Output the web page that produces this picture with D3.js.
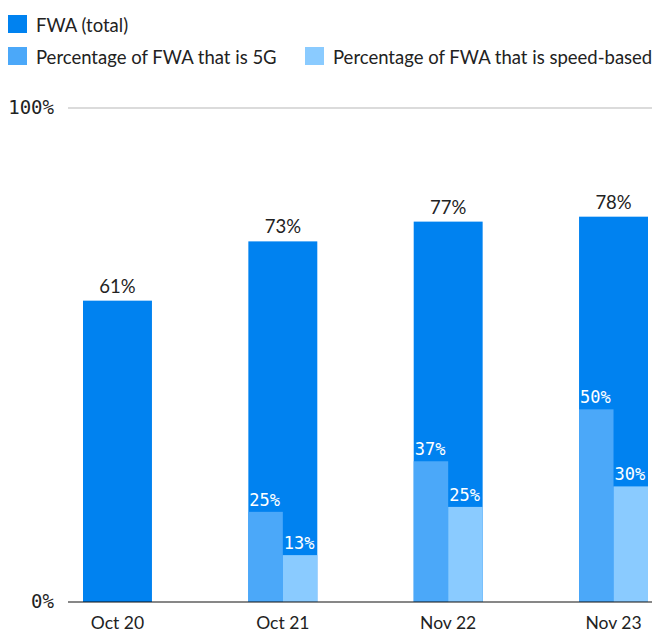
<!DOCTYPE html>
<html><head><meta charset="utf-8">
<script src="https://cdn.jsdelivr.net/npm/d3@7"></script>
<style>body{margin:0;background:#fff}svg{display:block}</style>
</head><body>
<svg id="c" width="652" height="635"></svg>
<script>
const categories = ["Oct 20", "Oct 21", "Nov 22", "Nov 23"];
const fwaTotal = [61, 73, 77, 78];
const share5G = [null, 25, 37, 50];
const shareSpeed = [null, 13, 25, 30];
const yTicks = [0, 100];
const legendLabels = ["FWA (total)", "Percentage of FWA that is 5G", "Percentage of FWA that is speed-based"];
const colors = ["#0082f0", "#4ba8f9", "#8acbff"];

const svg = d3.select("#c");
const sansFont = "Lato, 'Noto Sans', sans-serif";
const monoFont = "'DejaVu Sans Mono', monospace";

const x = d3.scaleBand().domain(categories).range([83, 648]).paddingInner(0.583).paddingOuter(0);
const y = d3.scaleLinear().domain([0, 100]).range([602, 108]);

svg.append("line").attr("x1", 68).attr("x2", 652).attr("y1", y(100)).attr("y2", y(100))
  .attr("stroke", "#b8b8b8").attr("stroke-width", 1.2);

svg.selectAll(".yt").data(yTicks).join("text")
  .attr("x", 54).attr("y", d => y(d) + 6).attr("text-anchor", "end")
  .attr("font-family", monoFont).attr("font-size", 19).attr("fill", "#222")
  .text(d => d + "%");

svg.selectAll(".tot").data(fwaTotal).join("rect")
  .attr("x", (d, i) => x(categories[i])).attr("width", x.bandwidth())
  .attr("y", d => y(d)).attr("height", d => y(0) - y(d)).attr("fill", colors[0]);

const half = x.bandwidth() / 2;
const g5 = share5G.map((v, i) => ({v, i})).filter(d => d.v != null);
const sp = shareSpeed.map((v, i) => ({v, i})).filter(d => d.v != null);
const abs = d => y(d.v * fwaTotal[d.i] / 100);

svg.selectAll(".g5").data(g5).join("rect")
  .attr("x", d => x(categories[d.i])).attr("width", half)
  .attr("y", abs).attr("height", d => y(0) - abs(d)).attr("fill", colors[1]);
svg.selectAll(".sp").data(sp).join("rect")
  .attr("x", d => x(categories[d.i]) + half).attr("width", half)
  .attr("y", abs).attr("height", d => y(0) - abs(d)).attr("fill", colors[2]);

svg.selectAll(".l5").data(g5).join("text")
  .attr("x", d => x(categories[d.i]) + 1).attr("y", d => abs(d) - 6)
  .attr("font-family", monoFont).attr("font-size", 17).attr("fill", "#fff").text(d => d.v + "%");
svg.selectAll(".ls").data(sp).join("text")
  .attr("x", d => x(categories[d.i]) + half + 1).attr("y", d => abs(d) - 6)
  .attr("font-family", monoFont).attr("font-size", 17).attr("fill", "#fff").text(d => d.v + "%");

svg.selectAll(".tl").data(fwaTotal).join("text")
  .attr("x", (d, i) => x(categories[i]) + x.bandwidth() / 2).attr("y", d => y(d) - 8)
  .attr("text-anchor", "middle").attr("font-family", sansFont).attr("font-size", 18.5).attr("fill", "#222")
  .text(d => d + "%");

svg.append("line").attr("x1", 68).attr("x2", 652).attr("y1", y(0)).attr("y2", y(0))
  .attr("stroke", "#111").attr("stroke-width", 1.2);

svg.selectAll(".xl").data(categories).join("text")
  .attr("x", d => x(d) + x.bandwidth() / 2).attr("y", 629)
  .attr("text-anchor", "middle").attr("font-family", sansFont).attr("font-size", 17.5).attr("fill", "#222")
  .text(d => d);

const legendPos = [[8, 15], [8, 47], [305, 47]];
legendLabels.forEach((t, i) => {
  const [lx, ly] = legendPos[i];
  svg.append("rect").attr("x", lx).attr("y", ly).attr("width", 19).attr("height", 18).attr("fill", colors[i]);
  svg.append("text").attr("x", lx + 28).attr("y", ly + 17).attr("font-family", sansFont)
    .attr("font-size", 18.5).attr("fill", "#222").text(t);
});
</script>
</body></html>
